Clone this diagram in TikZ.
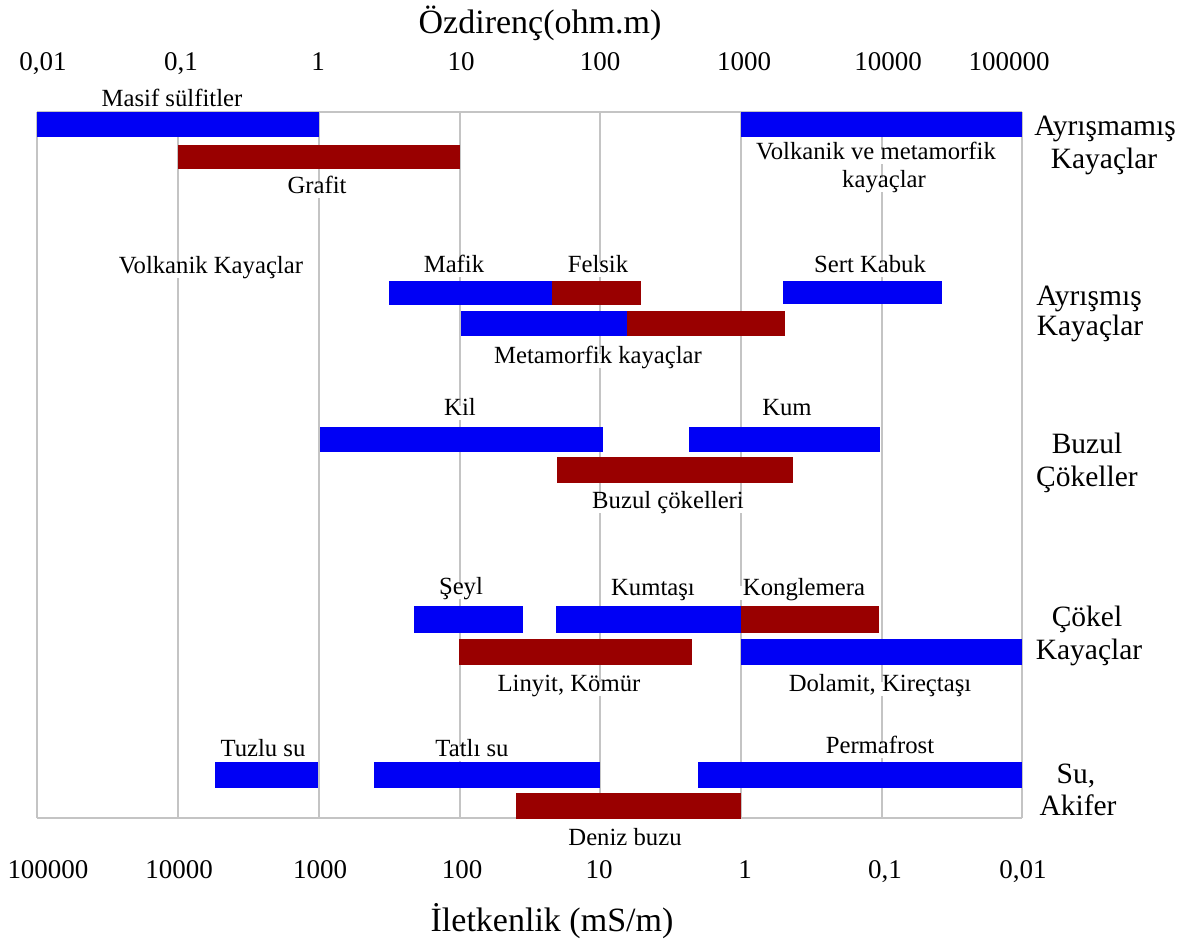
\documentclass[tikz,border=0pt]{standalone}
\usepackage{fontspec}
\setmainfont{Liberation Serif}
\definecolor{barblue}{HTML}{0000F5}
\definecolor{barred}{HTML}{990000}
\definecolor{gridgray}{HTML}{C4C4C4}
\tikzset{
  gridline/.style={draw=gridgray, line width=1.6pt},
  bluebar/.style={fill=barblue},
  redbar/.style={fill=barred},
  lbl/.style={fill=white, inner sep=3pt, yshift=-4pt, font=\fontsize{24.7}{29}\selectfont, text height=0.68em, text depth=0.2em},
  tick/.style={inner sep=1pt, yshift=-6pt, font=\fontsize{27}{31}\selectfont, text height=0.68em, text depth=0.1em},
  grp/.style={fill=white, inner sep=2pt, yshift=-5pt, font=\fontsize{29.5}{34}\selectfont, text height=0.7em, text depth=0.22em},
  ttl/.style={inner sep=1pt, anchor=base, font=\fontsize{34}{40}\selectfont}
}
\begin{document}
\begin{tikzpicture}[x=1pt,y=-1pt]
\useasboundingbox[fill=white] (0,0) rectangle (1194,945);
% vertical grid lines
\foreach \gx/\nm in {37/ga,178/gb,319/gc,460/gd,600/ge,741/gf,882/gg,1022/gh}{
  \coordinate (\nm t) at (\gx,112);
  \coordinate (\nm b) at (\gx,818);
  \draw[gridline] (\nm t) -- (\nm b);
}
% titles
\node[ttl] (toptitle) at (540,33) {Özdirenç(ohm.m)};
\node[ttl] (bottitle) at (552,931) {İletkenlik (mS/m)};
% top ticks
\node[tick] (t1) at (43,62) {0,01};
\node[tick] (t2) at (181,62) {0,1};
\node[tick] (t3) at (318,62) {1};
\node[tick] (t4) at (461,62) {10};
\node[tick] (t5) at (600,62) {100};
\node[tick] (t6) at (744,62) {1000};
\node[tick] (t7) at (888,62) {10000};
\node[tick] (t8) at (1009,62) {100000};
% bottom ticks
\node[tick] (b1) at (48,870) {100000};
\node[tick] (b2) at (179,870) {10000};
\node[tick] (b3) at (320,870) {1000};
\node[tick] (b4) at (462,870) {100};
\node[tick] (b5) at (599,870) {10};
\node[tick] (b6) at (745,870) {1};
\node[tick] (b7) at (885,870) {0,1};
\node[tick] (b8) at (1023,870) {0,01};
% labels
\node[lbl] (masif) at (172,100) {Masif sülfitler};
\node[lbl] (grafit) at (317,187) {Grafit};
\node[lbl] (volk1) at (876,153) {Volkanik ve metamorfik};
\node[lbl] (volk2) at (884,181) {kayaçlar};
\node[lbl] (volkk) at (211,267) {Volkanik Kayaçlar};
\node[lbl] (mafik) at (454,266) {Mafik};
\node[lbl] (felsik) at (598,266) {Felsik};
\node[lbl] (sert) at (870,266) {Sert Kabuk};
\node[lbl] (metam) at (598,357) {Metamorfik kayaçlar};
\node[lbl] (kil) at (460,409) {Kil};
\node[lbl] (kum) at (787,409) {Kum};
\node[lbl] (buzulc) at (668,502) {Buzul çökelleri};
\node[lbl] (seyl) at (461,588) {Şeyl};
\node[lbl] (kumtasi) at (653,589) {Kumtaşı};
\node[lbl] (kong) at (804,589) {Konglemera};
\node[lbl] (linyit) at (569,685) {Linyit, Kömür};
\node[lbl] (dolamit) at (880,685) {Dolamit, Kireçtaşı};
\node[lbl] (tuzlu) at (263,750) {Tuzlu su};
\node[lbl] (tatli) at (472,750) {Tatlı su};
\node[lbl] (perma) at (880,747) {Permafrost};
\node[lbl] (deniz) at (625,839) {Deniz buzu};
% group labels
\node[grp] (g1a) at (1105,128) {Ayrışmamış};
\node[grp] (g1b) at (1104,161) {Kayaçlar};
\node[grp] (g2a) at (1089,298) {Ayrışmış};
\node[grp] (g2b) at (1090,328) {Kayaçlar};
\node[grp] (g3a) at (1087,446) {Buzul};
\node[grp] (g3b) at (1087,479) {Çökeller};
\node[grp] (g4a) at (1087,619) {Çökel};
\node[grp] (g4b) at (1089,652) {Kayaçlar};
\node[grp] (g5a) at (1076,776) {Su,};
\node[grp] (g5b) at (1078,808) {Akifer};
% frame horizontals
\draw[gridline] (gat) -- (ght);
\draw[gridline] (gab) -- (ghb);
% bars
\path[bluebar] (37,112) rectangle (319,137);
\path[bluebar] (741,112) rectangle (1022,137);
\path[redbar] (178,145) rectangle (460,169);
\path[bluebar] (389,281) rectangle (552,305);
\path[redbar] (552,281) rectangle (641,305);
\path[bluebar] (783,281) rectangle (942,304);
\path[bluebar] (461,311) rectangle (627,336);
\path[redbar] (627,311) rectangle (785,336);
\path[bluebar] (320,427) rectangle (603,452);
\path[bluebar] (689,427) rectangle (880,452);
\path[redbar] (557,457) rectangle (793,483);
\path[bluebar] (414,606) rectangle (523,633);
\path[bluebar] (556,606) rectangle (741,633);
\path[redbar] (741,606) rectangle (879,633);
\path[redbar] (459,639) rectangle (692,665);
\path[bluebar] (741,639) rectangle (1022,665);
\path[bluebar] (215,762) rectangle (318,788);
\path[bluebar] (374,762) rectangle (600,788);
\path[bluebar] (698,762) rectangle (1022,788);
\path[redbar] (516,793) rectangle (741,819);
\end{tikzpicture}
\end{document}
